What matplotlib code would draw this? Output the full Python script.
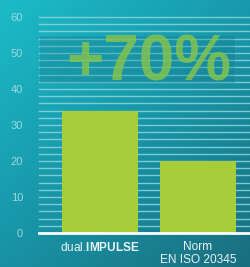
import numpy as np
import matplotlib
matplotlib.use("Agg")
import matplotlib.pyplot as plt
from matplotlib.colors import LinearSegmentedColormap
from matplotlib.patches import Rectangle

categories = [r"dual.$\mathbf{IMPULSE}$", "Norm\nEN ISO 20345"]
values = [34, 20]
yticks = [0, 10, 20, 30, 40, 50, 60]
annotation = "+70%"

plt.rcParams['font.family'] = ['Liberation Sans', 'DejaVu Sans']
plt.rcParams['mathtext.fontset'] = 'custom'
plt.rcParams['mathtext.bf'] = 'Liberation Sans:bold'
plt.rcParams['mathtext.rm'] = 'Liberation Sans'

fig = plt.figure(figsize=(2.51, 2.67), dpi=100)

# background gradient
bg = fig.add_axes([0, 0, 1, 1])
bg.axis('off')
xx, yy = np.meshgrid(np.linspace(0, 1, 200), np.linspace(0, 1, 200))
t = 0.45 * xx + 0.55 * yy
cmap = LinearSegmentedColormap.from_list('bg', ['#1cbbc9', '#1896a8', '#1a6e7e'])
bg.imshow(t, cmap=cmap, aspect='auto', extent=[0, 1, 0, 1], origin='upper', vmin=0, vmax=1)
bg.set_xlim(0, 1); bg.set_ylim(0, 1)

ax = fig.add_axes([39/251, 34/267, 212/251, 216/267])
ax.patch.set_alpha(0)
x = np.arange(len(categories))
for yv in np.arange(2, 61, 2):
    ax.axhline(yv, color='#86d3da', lw=1.0, alpha=0.9, zorder=1, clip_on=False)
ax.axhline(0, color='white', lw=2, zorder=3, clip_on=False)
ax.bar(x, values, width=0.776, color='#a7cd3a', zorder=2)
ax.set_xlim(-0.622, 1.541)
ax.set_ylim(0, 60)
for s in ax.spines.values():
    s.set_visible(False)
ax.set_yticks(yticks)
ax.set_yticklabels([str(v) for v in yticks], color='#9ad9de', fontsize=8)
ax.tick_params(axis='y', length=0, pad=11.5)
ax.set_xticks(x)
ax.set_xticklabels(categories, color='#e6f4f4', fontsize=8.6, linespacing=1.05)
ax.tick_params(axis='x', length=0, pad=6)

ax.add_patch(Rectangle((-0.612, 41.7), 1.99, 13.0, facecolor='#13788a', alpha=0.3,
                       edgecolor='none', zorder=1.5))
ax.text(0.5, 47.2, annotation, ha='center', va='center', fontsize=46, fontweight='bold',
        color='#86c44c', alpha=0.82, zorder=4)

fig.savefig('out.png', dpi=100)
